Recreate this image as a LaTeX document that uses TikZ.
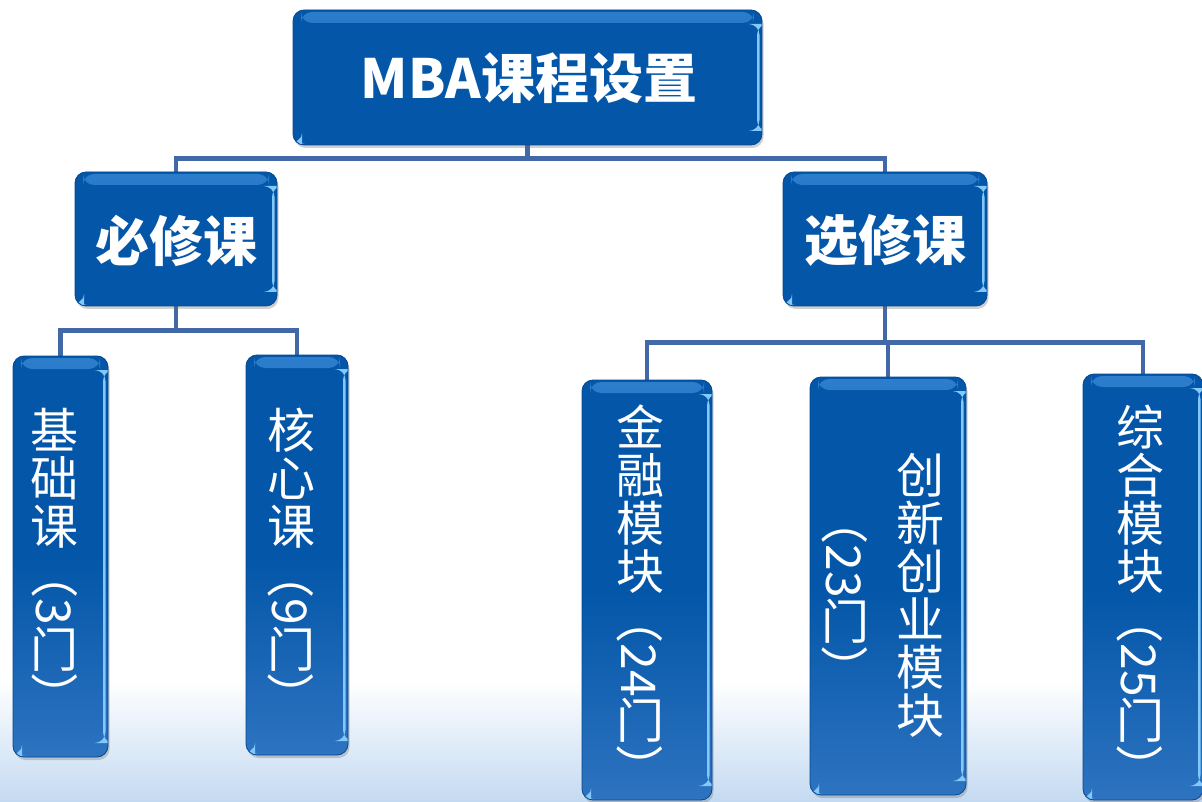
\documentclass[tikz,border=0pt]{standalone}
\usepackage{fontspec}
\usepackage{graphicx}
\newfontfamily\cjk{Noto Sans CJK SC}
\usetikzlibrary{shadows}
\pgfdeclarelayer{bg}
\pgfsetlayers{bg,main}
\definecolor{boxblue}{RGB}{3,86,168}
\definecolor{boxlow}{RGB}{45,115,192}
\definecolor{hilite}{RGB}{130,200,250}
\definecolor{band}{RGB}{45,125,205}
\definecolor{linkc}{RGB}{66,104,168}
\definecolor{bgblue}{RGB}{196,218,242}
\newcommand{\cs}[1]{\rule[-0.12em]{0pt}{1em}#1}
\newcommand{\vr}[1]{\raisebox{0.88em}{\rotatebox{-90}{#1}}}
\newcommand{\vcol}[1]{\parbox[c]{1.4em}{\centering\lineskip=0pt\lineskiplimit=0pt #1}}
\tikzset{
  cbox/.style={rectangle, rounded corners=11pt, draw=boxblue!85!black, line width=0.8pt,
    top color=boxblue, bottom color=boxblue, inner sep=0pt,
    drop shadow={shadow xshift=1.5pt, shadow yshift=-3pt, opacity=0.3, fill=black!60},
    path picture={
      \shade[top color=band, bottom color=boxblue]
        ([xshift=8pt,yshift=-2pt]path picture bounding box.north west) rectangle
        ([xshift=-8pt,yshift=-13pt]path picture bounding box.north east);
      \fill[hilite] ([xshift=-5pt,yshift=-14pt]path picture bounding box.north east) rectangle
        ([xshift=-2.5pt,yshift=14pt]path picture bounding box.south east);
      \fill[hilite] ([xshift=1pt,yshift=1pt]path picture bounding box.south west) --
        ++(8pt,0) -- ++(0,8pt) -- cycle;
    }},
  tallbox/.style={cbox, top color=boxblue, bottom color=boxlow, middle color=boxblue},
  link/.style={draw=linkc, line width=4.5pt},
  head/.style={text=white, inner sep=0pt, font={\cjk\bfseries\fontsize{54}{54}\selectfont}},
  vt/.style={text=white, inner sep=0pt, font={\cjk\fontsize{48}{48}\selectfont}}
}
\begin{document}
\begin{tikzpicture}[x=1pt,y=-1pt]
\useasboundingbox (0,0) rectangle (1202,802);
\begin{pgfonlayer}{bg}
\fill[white] (0,0) rectangle (1202,802);
\shade[top color=white, bottom color=bgblue] (0,680) rectangle (1202,802);
\end{pgfonlayer}

% boxes
\node[cbox, minimum width=469pt, minimum height=135pt] (top) at (527.5,77.5) {};
\node[cbox, minimum width=202pt, minimum height=134pt] (req) at (176,239) {};
\node[cbox, minimum width=204pt, minimum height=134pt] (ele) at (885,239) {};
\node[tallbox, minimum width=95pt, minimum height=401pt] (jc) at (60.5,556.5) {};
\node[tallbox, minimum width=102pt, minimum height=400pt] (hx) at (297,555) {};
\node[tallbox, minimum width=130pt, minimum height=420pt] (jr) at (647,590) {};
\node[tallbox, minimum width=156pt, minimum height=418pt] (cx) at (888,586) {};
\node[tallbox, minimum width=120pt, minimum height=426pt] (zh) at (1143,587) {};

% texts
\node[head] (ttop) at (529,78) {MBA课程设置};
\node[head] (treq) at (176,241) {必修课};
\node[head] (tele) at (885,240.5) {选修课};
\node[vt] (tjc) at (55,563.5) {\vcol{\cs{基}\\\cs{础}\\\cs{课}\\\vr{（3}\\\cs{门}\\\vr{）}}};
\node[vt] (thx) at (291,563.5) {\vcol{\cs{核}\\\cs{心}\\\cs{课}\\\vr{（9}\\\cs{门}\\\vr{）}}};
\node[vt] (tjr) at (640,598) {\vcol{\cs{金}\\\cs{融}\\\cs{模}\\\cs{块}\\\vr{（24}\\\cs{门}\\\vr{）}}};
\node[vt] (tcx) at (882.5,595) {\vcol{\vr{（23}\\\cs{门}\\\vr{）}}\hspace{7.8pt}\vcol{\cs{创}\\\cs{新}\\\cs{创}\\\cs{业}\\\cs{模}\\\cs{块}}};
\node[vt] (tzh) at (1140,598) {\vcol{\cs{综}\\\cs{合}\\\cs{模}\\\cs{块}\\\vr{（25}\\\cs{门}\\\vr{）}}};

% connectors
\begin{pgfonlayer}{bg}
\draw[link] (top.south) -- ++(0,13) coordinate (j0) -| (req.north);
\draw[link] (j0) -| (ele.north);
\draw[link] (req.south) -- ++(0,24) coordinate (j1) -| (jc.north);
\draw[link] (j1) -| (hx.north);
\draw[link] (ele.south) -- ++(0,36) coordinate (j2) -| (jr.north);
\draw[link] (j2) -| (cx.north);
\draw[link] (j2) -| (zh.north);
\end{pgfonlayer}
\end{tikzpicture}
\end{document}
